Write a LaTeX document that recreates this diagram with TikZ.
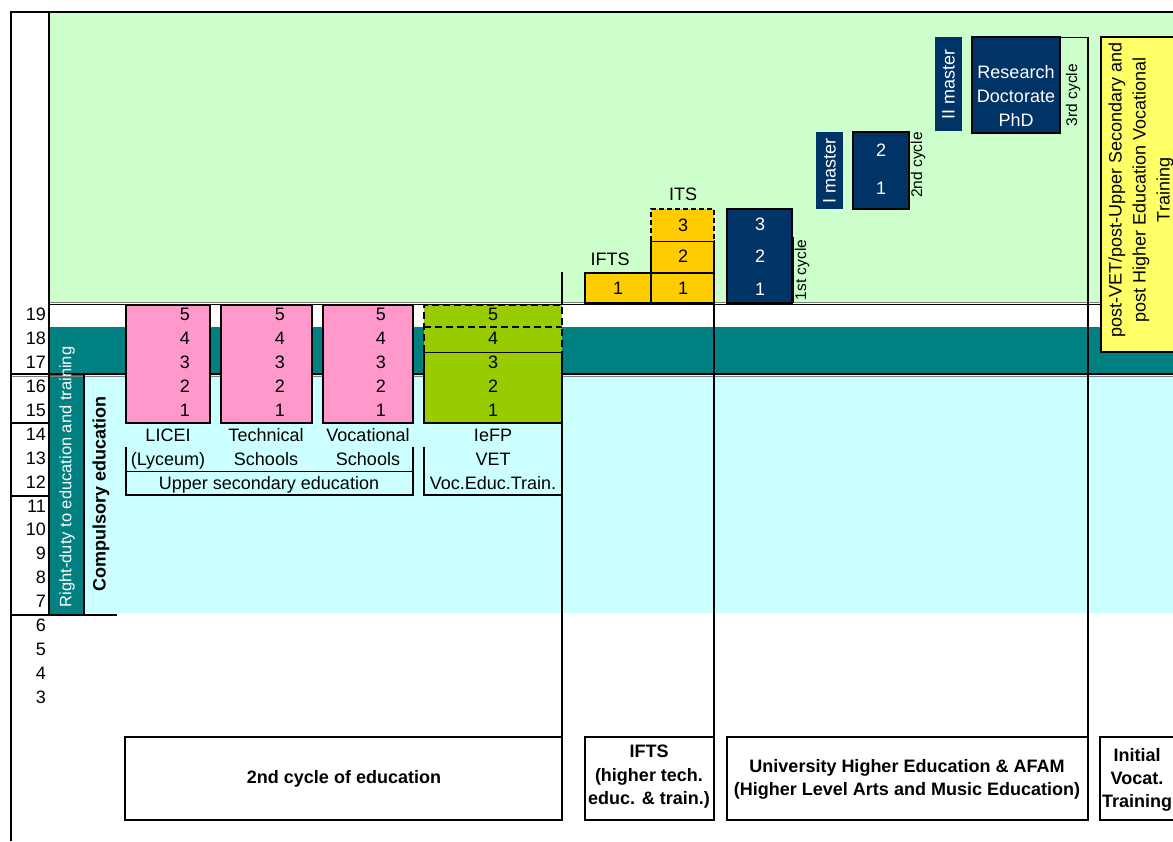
\documentclass[tikz,border=0pt]{standalone}
\usepackage{fontspec}
\setmainfont{Liberation Sans}
\usetikzlibrary{fit}
\definecolor{bggreen}{HTML}{CCFFCC}
\definecolor{bgcyan}{HTML}{CCFFFF}
\definecolor{myteal}{HTML}{008080}
\definecolor{mypink}{HTML}{FF99CC}
\definecolor{mylime}{HTML}{99CC00}
\definecolor{mygold}{HTML}{FFCC00}
\definecolor{mynavy}{HTML}{003366}
\definecolor{myyellow}{HTML}{FFFF66}
\definecolor{mygray}{HTML}{808080}
\begin{document}
\begin{tikzpicture}[x=1pt,y=-1pt,
  txt/.style={font=\fontsize{18}{24}\selectfont, inner sep=0pt},
  btxt/.style={font=\fontsize{18}{24}\selectfont\bfseries, inner sep=0pt, align=center},
  smalltxt/.style={font=\fontsize{15.5}{18}\selectfont, inner sep=0pt},
  box/.style={draw=black, line width=1.6pt, inner sep=0pt},
  pinkbox/.style={box, fill=mypink},
  goldbox/.style={box, fill=mygold},
  navybox/.style={box, fill=mynavy},
  navylabel/.style={fill=mynavy, inner sep=0pt},
  thickline/.style={line width=1.6pt},
  thinline/.style={line width=1pt},
  dashline/.style={line width=2.2pt, dash pattern=on 7pt off 4pt},
  dashthin/.style={line width=1.6pt, dash pattern=on 5pt off 3pt}
]
\useasboundingbox (0,0) rectangle (1173,841);
\begin{scope}
\clip (0,0) rectangle (1173,841);
\fill[white] (0,0) rectangle (1173,841);
% background bands
\fill[bggreen] (50,13) rectangle (1173,303);
\fill[myteal] (50,327) rectangle (1173,374);
\fill[myteal] (50,374) rectangle (84,614);
\fill[bgcyan] (84,375) rectangle (1173,613);
% band lines
\draw[mygray, line width=1pt] (50,302.3) -- (1173,302.3);
\draw[line width=1.6pt] (50,304.6) -- (1173,304.6);
\draw[line width=2pt] (11,373.6) -- (1173,373.6);
\draw[mygray, line width=1pt] (11,376.4) -- (1173,376.4);
% frame
\draw[line width=2pt] (11,841) -- (11,12) -- (1173,12);
\draw[thickline] (49,12) -- (49,615);
\draw[thickline] (11,423) -- (49,423);
\draw[thickline] (11,496) -- (49,496);
\draw[thickline] (11,615) -- (117,615);
\draw[thickline] (84,375) -- (84,614);
% ages
\foreach \n in {3,...,19}
  \node[txt, anchor=base east] (age\n) at (46,{320.5+(19-\n)*23.94}) {\n};
% vertical texts
\node[txt, font=\fontsize{16.5}{20}\selectfont, text=white, rotate=90] (rightduty) at (67,477) {Right-duty to education and training};
\node[btxt, rotate=90] (compulsory) at (101,494) {Compulsory education};
% pink boxes
\node[pinkbox, fit={(126,305) (210,423)}] (licei) {};
\node[pinkbox, fit={(221,305) (312,423)}] (tech) {};
\node[pinkbox, fit={(323,305) (413,423)}] (voc) {};
\foreach \k in {1,...,5} {
  \node[txt, anchor=base] (lic\k) at (185,{320.5+(5-\k)*23.94}) {\k};
  \node[txt, anchor=base] (tec\k) at (280,{320.5+(5-\k)*23.94}) {\k};
  \node[txt, anchor=base] (voc\k) at (381,{320.5+(5-\k)*23.94}) {\k};
}
% IeFP box
\fill[mylime] (424,305) rectangle (562,423);
\draw[thickline] (424,352) -- (424,423) -- (562,423);
\draw[thinline] (424,352) -- (562,352);
\draw[dashline] (424,352) -- (424,305) -- (562,305) -- (562,352);
\draw[dashline] (424,327) -- (562,327);
\foreach \k in {1,...,5}
  \node[txt, anchor=base] (iefp\k) at (493,{320.5+(5-\k)*23.94}) {\k};
% labels under boxes
\node[txt, anchor=base] (liceiA) at (168,441.5) {LICEI};
\node[txt, anchor=base] (liceiB) at (168,465.5) {(Lyceum)};
\node[txt, anchor=base] (techA) at (266,441.5) {Technical};
\node[txt, anchor=base] (techB) at (266,465.5) {Schools};
\node[txt, anchor=base] (vocA) at (368,441.5) {Vocational};
\node[txt, anchor=base] (vocB) at (368,465.5) {Schools};
\node[txt, anchor=base] (upper) at (269,489.5) {Upper secondary education};
\node[txt, anchor=base] (iefpA) at (493,441.5) {IeFP};
\node[txt, anchor=base] (iefpB) at (493,465.5) {VET};
\node[txt, anchor=base] (iefpC) at (493,489.5) {Voc.Educ.Train.};
\draw[thickline] (126,447) -- (126,495) -- (413,495) -- (413,447);
\draw[thinline] (126,471.5) -- (413,471.5);
\draw[thickline] (424,447) -- (424,495) -- (562,495);
% main vertical separators
\draw[thickline] (562,272) -- (562,304);
\draw[thickline] (562,352) -- (562,820);
\draw[thickline] (714,241) -- (714,737);
\draw[line width=2pt] (1088,37) -- (1088,820);
% IFTS / ITS
\node[goldbox, fit={(585,273) (651,303)}] (ifts1) {};
\node[goldbox, fit={(651,273) (714,303)}] (its1) {};
\node[goldbox, fit={(651,241) (714,273)}] (its2) {};
\fill[mygold] (651,209) rectangle (714,241);
\draw[dashthin] (651,241) -- (651,209) -- (714,209) -- (714,241);
\node[txt, anchor=base] (ifts1t) at (618,294.5) {1};
\node[txt, anchor=base] (its1t) at (683,294.5) {1};
\node[txt, anchor=base] (its2t) at (683,262.5) {2};
\node[txt, anchor=base] (its3t) at (683,231.5) {3};
\node[txt, anchor=base] (iftslab) at (610,265.5) {IFTS};
\node[txt, anchor=base] (itslab) at (683,200.5) {ITS};
% university 1st cycle
\node[navybox, fit={(727,209) (792,303)}] (cyc1) {};
\node[txt, anchor=base, text=white] (c1n3) at (760,230.5) {3};
\node[txt, anchor=base, text=white] (c1n2) at (760,262.5) {2};
\node[txt, anchor=base, text=white] (c1n1) at (760,295.5) {1};
\draw[thinline] (793.5,237) -- (793.5,303);
\node[smalltxt, rotate=90] (cyc1lab) at (802,270) {1st cycle};
% 2nd cycle
\node[navybox, fit={(853,132) (909,209)}] (cyc2) {};
\node[txt, anchor=base, text=white] (c2n2) at (881,156.5) {2};
\node[txt, anchor=base, text=white] (c2n1) at (881,194.5) {1};
\node[smalltxt, rotate=90] (cyc2lab) at (918,165) {2nd cycle};
\node[navylabel, fit={(816,132) (843,209)}] (imasterbox) {};
\node[txt, rotate=90, text=white] (imaster) at (829.5,170.5) {I master};
% 3rd cycle
\node[navylabel, fit={(935,37) (962,131)}] (iimasterbox) {};
\node[txt, rotate=90, text=white] (iimaster) at (948.5,84) {II master};
\node[navybox, fit={(972,37) (1060,133)}] (phd) {};
\node[txt, anchor=base, text=white] (phdA) at (1016,78.5) {Research};
\node[txt, anchor=base, text=white] (phdB) at (1016,102.5) {Doctorate};
\node[txt, anchor=base, text=white] (phdC) at (1016,126.5) {PhD};
\draw[thinline] (1060,37) -- (1088,37);
\node[smalltxt, rotate=90] (cyc3lab) at (1073,95) {3rd cycle};
% post-VET box
\node[box, fill=myyellow, fit={(1101,37) (1186,352)}] (postvet) {};
\node[txt, rotate=90, align=center] (postvett) at (1141,190) {post-VET/post-Upper Secondary and\\post Higher Education Vocational\\Training};
% bottom boxes
\node[box, fit={(125,737) (562,820)}] (b2nd) {};
\node[btxt, anchor=base] (b2ndt) at (344,783.5) {2nd cycle of education};
\node[box, fit={(585,737) (714,820)}] (bifts) {};
\node[btxt, anchor=base] (biftsA) at (649,757.5) {IFTS};
\node[btxt, anchor=base] (biftsB) at (649,781.5) {(higher tech.};
\node[btxt, anchor=base] (biftsC) at (649,804.5) {educ. \& train.)};
\node[box, fit={(727,737) (1088,820)}] (buni) {};
\node[btxt, anchor=base] (buniA) at (907,772.5) {University Higher Education \& AFAM};
\node[btxt, anchor=base] (buniB) at (907,795.5) {(Higher Level Arts and Music Education)};
\node[box, fit={(1100,737) (1190,820)}] (binit) {};
\node[btxt, anchor=base] (binitA) at (1137,761.5) {Initial};
\node[btxt, anchor=base] (binitB) at (1137,784.5) {Vocat.};
\node[btxt, anchor=base] (binitC) at (1137,807.5) {Training};
\end{scope}
\end{tikzpicture}
\end{document}
